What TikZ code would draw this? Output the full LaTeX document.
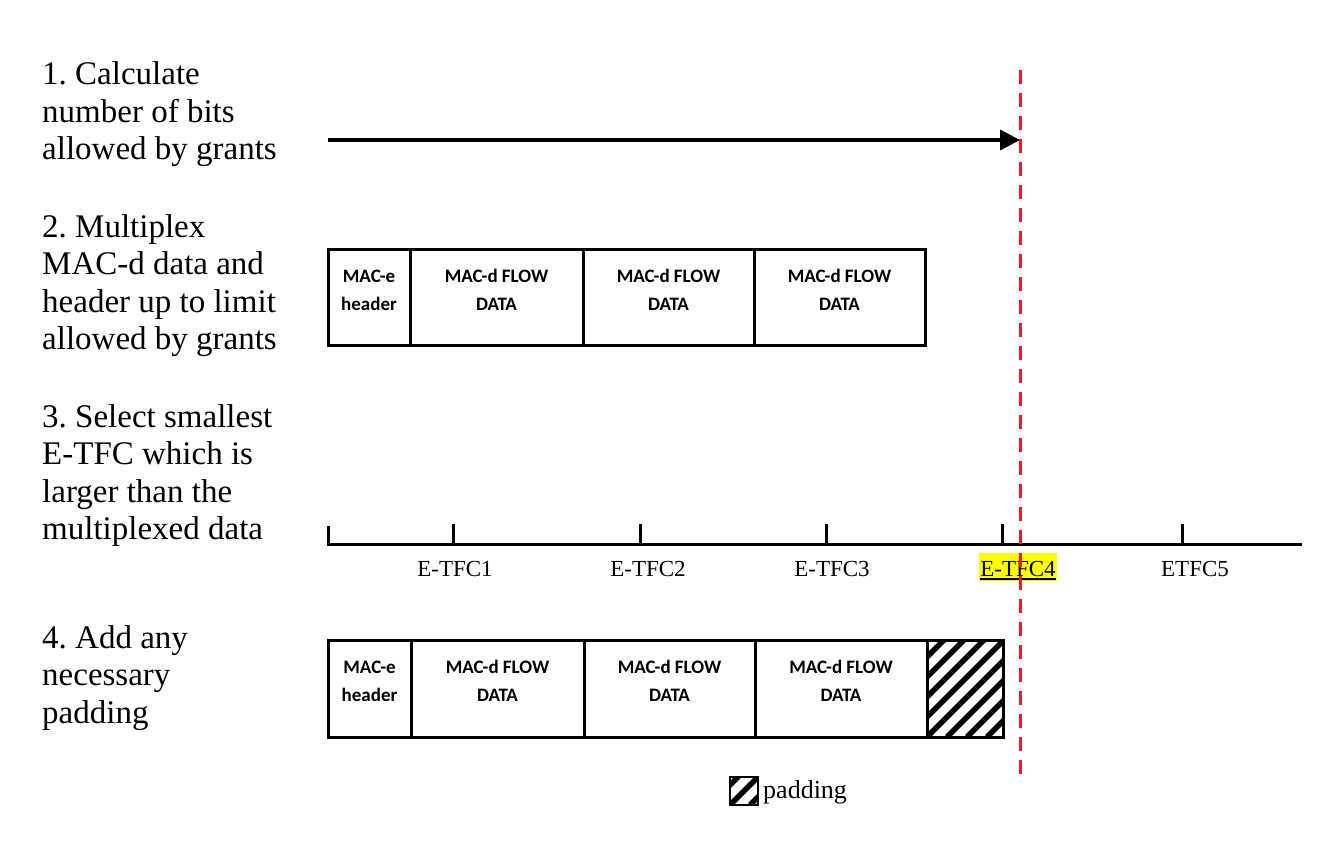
\documentclass[tikz,border=0pt]{standalone}
\usepackage{fontspec}
\setmainfont{Liberation Serif}
\newfontfamily\boxfont{Carlito}
\usetikzlibrary{arrows.meta}
\definecolor{dashred}{RGB}{237,28,36}
\definecolor{hl}{RGB}{255,255,0}
\frenchspacing
\begin{document}
\begin{tikzpicture}[x=1pt,y=-1pt,
  steptext/.style={anchor=base west, inner sep=0pt, font=\fontsize{33}{37.5}\selectfont},
  cell/.style={draw, line width=3pt, rectangle, inner sep=0pt, outer sep=0pt, anchor=north west, minimum height=96pt},
  celltext/.style={anchor=base, inner sep=0pt, font=\boxfont\bfseries\fontsize{19}{28}\selectfont},
  tfclabel/.style={anchor=base, inner sep=0pt, font=\fontsize{23}{27}\selectfont},
  axisline/.style={line width=3pt},
  hatch/.style={path picture={\foreach \k in {-120,-100,...,100}{\draw[line width=5.5pt] ([xshift=\k pt]path picture bounding box.south west) -- ++(130,-130);}}},
  reddash/.style={draw=dashred, line width=3pt, dash pattern=on 14pt off 9pt},
  bigarrow/.style={line width=4pt, -{Triangle[length=20pt,width=20pt]}}
]
\useasboundingbox (0,0) rectangle (1341,848);

% left step texts
\node[steptext] (s1) at (42,85) {\begin{tabular}[t]{@{}l@{}}1. Calculate\\number of bits\\allowed by grants\end{tabular}};
\node[steptext] (s2) at (42,237) {\begin{tabular}[t]{@{}l@{}}2. Multiplex\\MAC-d data and\\header up to limit\\allowed by grants\end{tabular}};
\node[steptext] (s3) at (42,427) {\begin{tabular}[t]{@{}l@{}}3. Select smallest\\E-TFC which is\\larger than the\\multiplexed data\end{tabular}};
\node[steptext] (s4) at (42,648) {\begin{tabular}[t]{@{}l@{}}4. Add any\\necessary\\padding\end{tabular}};

% step 1 arrow
\coordinate (a1) at (328,140);
\coordinate (a2) at (1020,140);
\draw[bigarrow] (a1) -- (a2);

% step 2 row
\node[cell, minimum width=82pt] (h2) at (328,249) {};
\node[cell, minimum width=173pt] (d21) at (410,249) {};
\node[cell, minimum width=171pt] (d22) at (583,249) {};
\node[cell, minimum width=171pt] (d23) at (754,249) {};
\node[celltext] at ([yshift=-33pt]h2.north) {\begin{tabular}[t]{@{}c@{}}MAC-e\\header\end{tabular}};
\node[celltext] at ([yshift=-33pt]d21.north) {\begin{tabular}[t]{@{}c@{}}MAC-d FLOW\\DATA\end{tabular}};
\node[celltext] at ([yshift=-33pt]d22.north) {\begin{tabular}[t]{@{}c@{}}MAC-d FLOW\\DATA\end{tabular}};
\node[celltext] at ([yshift=-33pt]d23.north) {\begin{tabular}[t]{@{}c@{}}MAC-d FLOW\\DATA\end{tabular}};

% step 3 axis
\draw[axisline] (328,526) -- (328,544) -- (1302,544);
\foreach \x in {453,640,826,1002,1182}{\draw[axisline] (\x,544) -- (\x,524);}
\node[tfclabel] (e1) at (455,576) {E-TFC1};
\node[tfclabel] (e2) at (648,576) {E-TFC2};
\node[tfclabel] (e3) at (832,576) {E-TFC3};
\node[tfclabel, fill=hl, text height=23pt, text depth=5pt, inner xsep=1pt] (e4) at (1018,576) {E-TFC4};
\draw[line width=1.4pt] ([yshift=-3pt,xshift=1pt]e4.base west) -- ([yshift=-3pt,xshift=-1pt]e4.base east);
\node[tfclabel] (e5) at (1195,576) {ETFC5};

% step 4 row
\node[cell, minimum width=83pt, minimum height=97pt] (h4) at (328,640) {};
\node[cell, minimum width=173pt, minimum height=97pt] (d41) at (411,640) {};
\node[cell, minimum width=171pt, minimum height=97pt] (d42) at (584,640) {};
\node[cell, minimum width=172pt, minimum height=97pt] (d43) at (755,640) {};
\node[cell, hatch, minimum width=76pt, minimum height=97pt] (pad) at (927,640) {};
\node[celltext] at ([yshift=-33pt]h4.north) {\begin{tabular}[t]{@{}c@{}}MAC-e\\header\end{tabular}};
\node[celltext] at ([yshift=-33pt]d41.north) {\begin{tabular}[t]{@{}c@{}}MAC-d FLOW\\DATA\end{tabular}};
\node[celltext] at ([yshift=-33pt]d42.north) {\begin{tabular}[t]{@{}c@{}}MAC-d FLOW\\DATA\end{tabular}};
\node[celltext] at ([yshift=-33pt]d43.north) {\begin{tabular}[t]{@{}c@{}}MAC-d FLOW\\DATA\end{tabular}};

% legend
\node[cell, hatch, line width=2.5pt, minimum width=28pt, minimum height=28pt] (leg) at (730,777) {};
\node[anchor=base west, inner sep=0pt, font=\fontsize{26}{30}\selectfont] (legt) at (763,798) {padding};

% red dashed limit
\coordinate (r1) at (1020,70);
\coordinate (r2) at (1020,778);
\draw[reddash] (r1) -- (r2);
\end{tikzpicture}
\end{document}
